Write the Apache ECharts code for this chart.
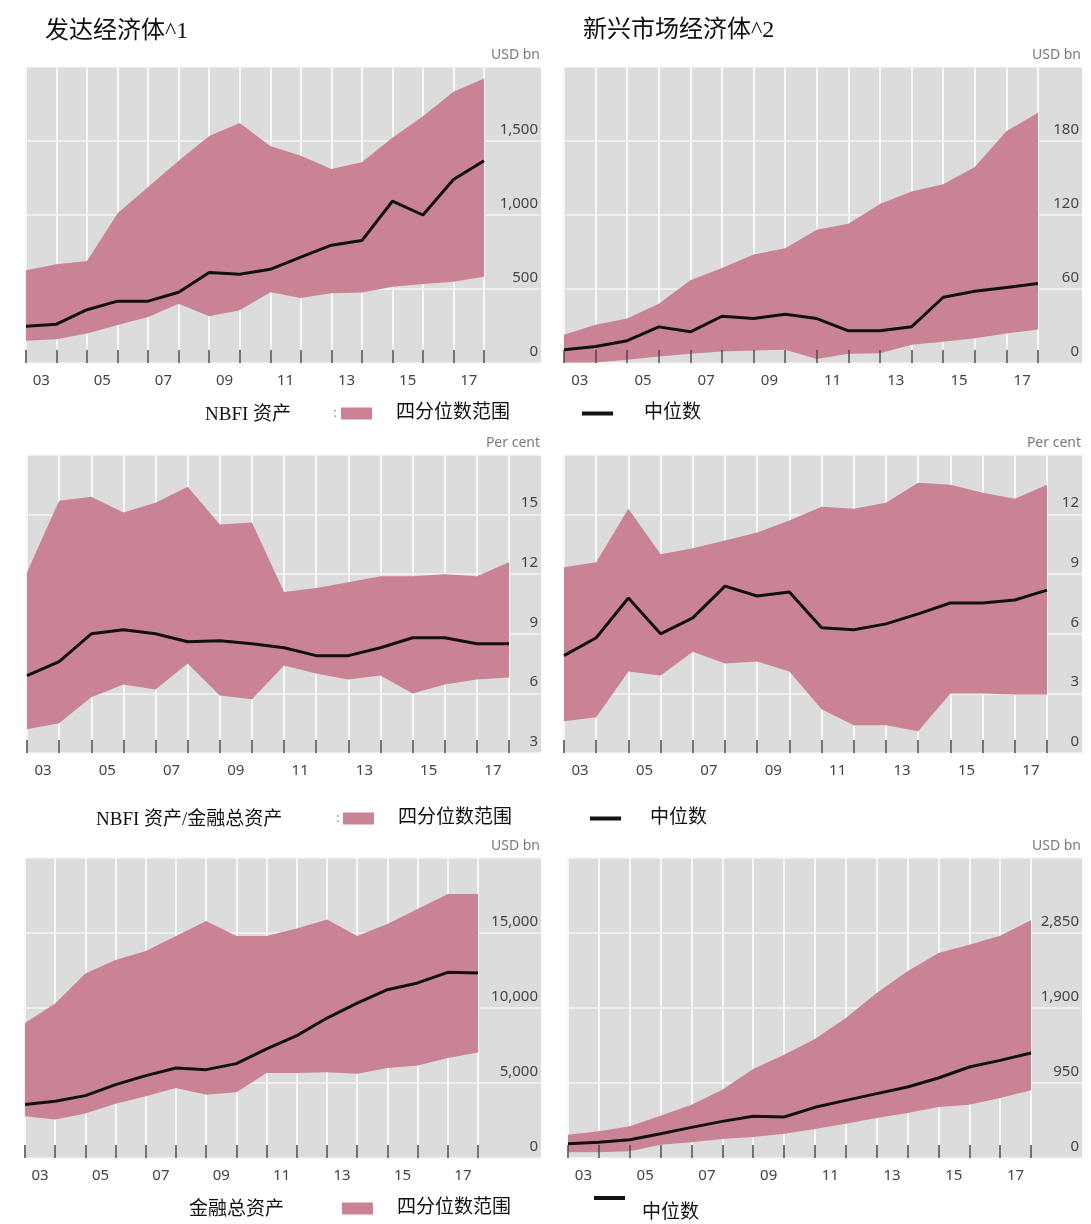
<!DOCTYPE html>
<html>
<head>
<meta charset="utf-8">
<script src="https://cdn.jsdelivr.net/npm/echarts@6/dist/echarts.min.js"></script>
<style>
  html, body { margin: 0; padding: 0; background: #ffffff; }
  #chart { width: 1091px; height: 1224px; }
</style>
</head>
<body>
<div id="chart"></div>
<script>
// Year-end observation points, end-2002 to end-2017
const pointDates = ['2002','2003','2004','2005','2006','2007','2008','2009','2010',
                    '2011','2012','2013','2014','2015','2016','2017'];
// Year bands along the horizontal axis
const yearLabels = ['03','04','05','06','07','08','09','10','11','12','13','14','15','16','17'];

// NBFI assets, advanced economies (USD bn)
const advNbfiUpper  = [627, 667, 689, 1011, 1189, 1367, 1533, 1622, 1467, 1400, 1311, 1356, 1522, 1667, 1833, 1922];
const advNbfiMedian = [249, 262, 360, 418, 418, 478, 611, 600, 633, 716, 796, 827, 1093, 1000, 1240, 1367];
const advNbfiLower  = [151, 160, 200, 256, 311, 400, 316, 356, 478, 440, 471, 476, 516, 533, 549, 582];

// NBFI assets, emerging market economies (USD bn)
const emeNbfiUpper  = [23, 31, 36, 48, 67, 77, 88, 93, 108, 113, 129, 139, 145, 159, 188, 203];
const emeNbfiMedian = [10.7, 13.3, 18.1, 29.3, 25.3, 37.9, 36, 39.5, 36, 26.1, 26.1, 29.3, 53.3, 58.1, 61.3, 64.5];
const emeNbfiLower  = [0.5, 0.5, 2.7, 5.3, 7.5, 9.3, 10.1, 10.7, 3.2, 7.5, 8, 14.7, 17.3, 20, 24, 27.2];

// NBFI assets / total financial assets, advanced economies (per cent)
const advShareUpper  = [12.1, 15.7, 15.9, 15.1, 15.6, 16.4, 14.5, 14.6, 11.1, 11.3, 11.6, 11.9, 11.9, 12.0, 11.9, 12.6];
const advShareMedian = [6.9, 7.6, 9.0, 9.2, 9.0, 8.6, 8.65, 8.5, 8.3, 7.9, 7.9, 8.3, 8.8, 8.8, 8.5, 8.5];
const advShareLower  = [4.2, 4.5, 5.8, 6.45, 6.2, 7.5, 5.9, 5.7, 7.4, 7.0, 6.7, 6.9, 6.0, 6.45, 6.7, 6.8];

// NBFI assets / total financial assets, emerging market economies (per cent)
const emeShareUpper  = [9.35, 9.6, 12.3, 10.0, 10.3, 10.7, 11.1, 11.7, 12.4, 12.3, 12.6, 13.6, 13.5, 13.1, 12.8, 13.5];
const emeShareMedian = [4.9, 5.8, 7.8, 6.0, 6.8, 8.4, 7.9, 8.1, 6.3, 6.2, 6.5, 7.0, 7.55, 7.55, 7.7, 8.2];
const emeShareLower  = [1.6, 1.8, 4.1, 3.9, 5.1, 4.5, 4.6, 4.1, 2.2, 1.4, 1.4, 1.1, 3.0, 3.0, 2.95, 2.95];

// Total financial assets, advanced economies (USD bn)
const advTotalUpper  = [9000, 10300, 12300, 13200, 13800, 14800, 15800, 14800, 14800, 15300, 15900, 14800, 15600, 16600, 17600, 17600];
const advTotalMedian = [3560, 3780, 4160, 4890, 5490, 6000, 5890, 6290, 7270, 8160, 9330, 10330, 11220, 11670, 12380, 12330];
const advTotalLower  = [2780, 2560, 2960, 3620, 4110, 4670, 4220, 4380, 5670, 5670, 5710, 5620, 6000, 6160, 6670, 7040];

// Total financial assets, emerging market economies (USD bn)
const emeTotalUpper  = [296, 338, 401, 536, 676, 866, 1127, 1309, 1507, 1773, 2090, 2364, 2597, 2702, 2816, 3010];
const emeTotalMedian = [182, 198, 232, 308, 388, 464, 528, 519, 642, 730, 815, 899, 1013, 1153, 1237, 1330];
const emeTotalLower  = [72, 72, 84, 169, 198, 241, 266, 308, 367, 435, 507, 570, 646, 676, 760, 857];

// Panel titles and legend wording
const columnTitles = ['发达经济体^1', '新兴市场经济体^2'];
const rowCaptions = ['NBFI 资产', 'NBFI 资产/金融总资产', '金融总资产'];
const bandName = '四分位数范围';
const medianName = '中位数';

const PINK = '#c98395';
const PANEL_GREY = '#dcdcdc';
const RULE = '#f6f6f6';
const AXIS_FONT = '"Noto Sans", "Open Sans", sans-serif';
const SERIF_FONT = '"Liberation Serif", "DejaVu Serif", "Noto Sans CJK SC", serif';

// Layout of the six panels: plotted span (left..dataRight) inside a grey panel that
// continues to greyRight, where the value labels sit.
const panels = [
  { left: 26,  dataRight: 484,  greyRight: 541,  top: 67,  height: 296, min: 0, max: 2000,  step: 500,  unit: 'USD bn',
    upper: advNbfiUpper, median: advNbfiMedian, lower: advNbfiLower },
  { left: 564, dataRight: 1038, greyRight: 1082, top: 67,  height: 296, min: 0, max: 240,   step: 60,   unit: 'USD bn',
    upper: emeNbfiUpper, median: emeNbfiMedian, lower: emeNbfiLower },
  { left: 27,  dataRight: 509,  greyRight: 541,  top: 455, height: 298, min: 3, max: 18,    step: 3,    unit: 'Per cent',
    upper: advShareUpper, median: advShareMedian, lower: advShareLower },
  { left: 564, dataRight: 1047, greyRight: 1082, top: 455, height: 298, min: 0, max: 15,    step: 3,    unit: 'Per cent',
    upper: emeShareUpper, median: emeShareMedian, lower: emeShareLower },
  { left: 25,  dataRight: 478,  greyRight: 541,  top: 858, height: 300, min: 0, max: 20000, step: 5000, unit: 'USD bn',
    upper: advTotalUpper, median: advTotalMedian, lower: advTotalLower },
  { left: 568, dataRight: 1031, greyRight: 1082, top: 858, height: 300, min: 0, max: 3800,  step: 950,  unit: 'USD bn',
    upper: emeTotalUpper, median: emeTotalMedian, lower: emeTotalLower }
];

const fmt = v => String(v).replace(/\B(?=(\d{3})+(?!\d))/g, ',');

const grid = [], xAxis = [], yAxis = [], series = [], unitTexts = [];

panels.forEach((p, i) => {
  // Grey panel carrying the horizontal rules and the value labels
  const gPanel = grid.length;
  grid.push({ left: p.left, top: p.top, width: p.greyRight - p.left, height: p.height,
              show: true, backgroundColor: PANEL_GREY, borderWidth: 0, outerBoundsMode: 'none' });
  // Plot area holding the series
  const gPlot = grid.length;
  grid.push({ left: p.left, top: p.top, width: p.dataRight - p.left, height: p.height,
              show: false, outerBoundsMode: 'none' });

  xAxis.push({ gridIndex: gPanel, type: 'value', position: 'bottom', min: 0, max: 1, show: false });
  yAxis.push({
    gridIndex: gPanel, type: 'value', position: 'right',
    min: p.min, max: p.max, interval: p.step,
    axisLine: { show: false }, axisTick: { show: false },
    splitLine: { show: true, lineStyle: { color: RULE, width: 1.5 } },
    axisLabel: { inside: true, margin: 3, showMaxLabel: false, verticalAlign: 'bottom', padding: [0, 0, 4, 0],
                 formatter: fmt, fontSize: 15, color: '#444', fontFamily: AXIS_FONT }
  });

  const xData = xAxis.length;
  // data positions + vertical rules
  xAxis.push({ gridIndex: gPlot, type: 'category', position: 'bottom', offset: 0, data: pointDates, boundaryGap: false,
               axisLine: { show: false }, axisTick: { show: false }, axisLabel: { show: false },
               splitLine: { show: true, interval: 0, lineStyle: { color: RULE, width: 2 } } });
  // short ticks standing on the base line, drawn above the shading
  xAxis.push({ gridIndex: gPlot, type: 'category', position: 'bottom', offset: 0, data: pointDates, boundaryGap: false, z: 10,
               axisLine: { show: false },
               axisTick: { show: true, inside: true, length: 13, interval: 0, lineStyle: { color: '#4a4a4a', width: 1.5 } },
               axisLabel: { show: false }, splitLine: { show: false } });
  // year labels centred in each band
  xAxis.push({ gridIndex: gPlot, type: 'category', position: 'bottom', offset: 0, data: yearLabels, boundaryGap: true,
               axisLine: { show: false }, axisTick: { show: false }, splitLine: { show: false },
               axisLabel: { interval: 1, margin: 10, fontSize: 15, color: '#444', fontFamily: AXIS_FONT } });

  const yPlot = yAxis.length;
  yAxis.push({ gridIndex: gPlot, type: 'value', position: 'right', min: p.min, max: p.max, interval: p.step, show: false });

  const stackId = 'band' + i;
  series.push({ type: 'line', name: '下四分位数', xAxisIndex: xData, yAxisIndex: yPlot, data: p.lower,
                stack: stackId, symbol: 'none', silent: true, lineStyle: { opacity: 0 }, z: 2 });
  series.push({ type: 'line', name: bandName, xAxisIndex: xData, yAxisIndex: yPlot,
                data: p.upper.map((u, k) => u - p.lower[k]),
                stack: stackId, symbol: 'none', silent: true, lineStyle: { opacity: 0 },
                areaStyle: { color: PINK, opacity: 1 }, itemStyle: { color: PINK }, z: 2 });
  series.push({ type: 'line', name: medianName, xAxisIndex: xData, yAxisIndex: yPlot, data: p.median,
                symbol: 'none', silent: true, lineStyle: { color: '#111', width: 3 }, itemStyle: { color: '#111' }, z: 3 });

  // unit caption above the value labels
  unitTexts.push({ type: 'text', x: p.greyRight - 1, y: p.top - 12,
                   style: { text: p.unit, align: 'right', verticalAlign: 'middle',
                            font: '14px ' + AXIS_FONT, fill: '#7a7a7a' } });
});

// Legend keys for each row of panels
const legendText = { fontSize: 19, color: '#111', fontFamily: SERIF_FONT };
function bandKey(left, centerY) {
  return { data: [{ name: bandName, icon: 'rect', itemStyle: { color: PINK, borderWidth: 0 } }],
           left: left, top: centerY - 11, padding: 0, itemWidth: 31, itemHeight: 12, selectedMode: false,
           textStyle: Object.assign({ padding: [0, 0, 0, 19] }, legendText) };
}
function medianKey(left, centerY, withText, gap) {
  return { data: [{ name: medianName, icon: 'rect', itemStyle: { color: '#111', borderWidth: 0 } }],
           left: left, top: centerY - 11, padding: 0, itemWidth: 31, itemHeight: 4, selectedMode: false,
           formatter: withText === false ? () => '' : undefined,
           textStyle: Object.assign({ padding: [0, 0, 0, gap || 26] }, legendText) };
}
const legend = [
  bandKey(341, 415), medianKey(582, 415),
  bandKey(343, 820), medianKey(590, 820, true, 24),
  bandKey(342, 1210), medianKey(594, 1207, false)
];

const graphic = unitTexts.concat([
  { type: 'text', x: 45,  y: 32, style: { text: columnTitles[0], font: '24px ' + SERIF_FONT, fill: '#111', verticalAlign: 'middle' } },
  { type: 'text', x: 583, y: 31, style: { text: columnTitles[1], font: '24px ' + SERIF_FONT, fill: '#111', verticalAlign: 'middle' } },
  { type: 'text', x: 205, y: 415, style: { text: rowCaptions[0], font: '19px ' + SERIF_FONT, fill: '#111', verticalAlign: 'middle' } },
  { type: 'text', x: 333, y: 413, style: { text: ':', font: '14px ' + SERIF_FONT, fill: '#888', verticalAlign: 'middle' } },
  { type: 'text', x: 96,  y: 820, style: { text: rowCaptions[1], font: '19px ' + SERIF_FONT, fill: '#111', verticalAlign: 'middle' } },
  { type: 'text', x: 336, y: 818, style: { text: ':', font: '14px ' + SERIF_FONT, fill: '#888', verticalAlign: 'middle' } },
  { type: 'text', x: 189, y: 1210, style: { text: rowCaptions[2], font: '19px ' + SERIF_FONT, fill: '#111', verticalAlign: 'middle' } },
  // the bottom-right key text sits a little lower than its line sample
  { type: 'text', x: 642, y: 1213, style: { text: medianName, font: '19px ' + SERIF_FONT, fill: '#111', verticalAlign: 'middle' } }
]);

const chart = echarts.init(document.getElementById('chart'), null, { renderer: 'canvas' });
chart.setOption({
  backgroundColor: '#ffffff',
  animation: false,
  grid, xAxis, yAxis, series, legend, graphic
});
</script>
</body>
</html>
